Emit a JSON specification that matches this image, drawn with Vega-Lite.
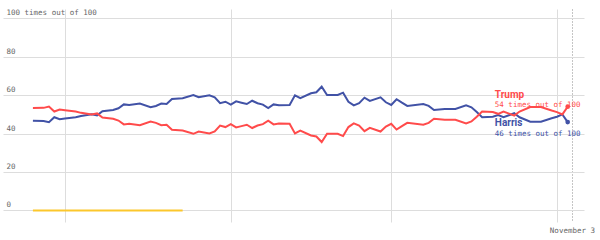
{
  "$schema": "https://vega.github.io/schema/vega-lite/v6.json",
  "width": 581,
  "height": 213,
  "autosize": {"type": "none"},
  "padding": {"left": 3, "top": 9, "right": 16, "bottom": 18},
  "background": "white",
  "config": {"view": {"stroke": null}},
  "datasets": {
    "odds": [
      {"date": "2024-07-26", "Harris": 46.7, "Trump": 53.3},
      {"date": "2024-07-28", "Harris": 46.6, "Trump": 53.4},
      {"date": "2024-07-29", "Harris": 45.9, "Trump": 54.1},
      {"date": "2024-07-30", "Harris": 48.5, "Trump": 51.5},
      {"date": "2024-07-31", "Harris": 47.5, "Trump": 52.5},
      {"date": "2024-08-01", "Harris": 47.8, "Trump": 52.2},
      {"date": "2024-08-03", "Harris": 48.5, "Trump": 51.5},
      {"date": "2024-08-04", "Harris": 49.2, "Trump": 50.8},
      {"date": "2024-08-06", "Harris": 50.0, "Trump": 50.0},
      {"date": "2024-08-07", "Harris": 49.5, "Trump": 50.5},
      {"date": "2024-08-08", "Harris": 51.6, "Trump": 48.4},
      {"date": "2024-08-10", "Harris": 52.3, "Trump": 47.7},
      {"date": "2024-08-11", "Harris": 53.2, "Trump": 46.8},
      {"date": "2024-08-12", "Harris": 55.2, "Trump": 44.8},
      {"date": "2024-08-13", "Harris": 54.9, "Trump": 45.1},
      {"date": "2024-08-15", "Harris": 55.6, "Trump": 44.4},
      {"date": "2024-08-17", "Harris": 53.7, "Trump": 46.3},
      {"date": "2024-08-18", "Harris": 54.4, "Trump": 45.6},
      {"date": "2024-08-19", "Harris": 55.6, "Trump": 44.4},
      {"date": "2024-08-20", "Harris": 55.4, "Trump": 44.6},
      {"date": "2024-08-21", "Harris": 58.0, "Trump": 42.0},
      {"date": "2024-08-23", "Harris": 58.4, "Trump": 41.6},
      {"date": "2024-08-25", "Harris": 60.1, "Trump": 39.9},
      {"date": "2024-08-26", "Harris": 58.9, "Trump": 41.1},
      {"date": "2024-08-28", "Harris": 59.9, "Trump": 40.1},
      {"date": "2024-08-29", "Harris": 58.9, "Trump": 41.1},
      {"date": "2024-08-30", "Harris": 55.8, "Trump": 44.2},
      {"date": "2024-08-31", "Harris": 56.6, "Trump": 43.4},
      {"date": "2024-09-01", "Harris": 55.1, "Trump": 44.9},
      {"date": "2024-09-02", "Harris": 56.8, "Trump": 43.2},
      {"date": "2024-09-03", "Harris": 56.1, "Trump": 43.9},
      {"date": "2024-09-04", "Harris": 55.4, "Trump": 44.6},
      {"date": "2024-09-05", "Harris": 57.1, "Trump": 42.9},
      {"date": "2024-09-06", "Harris": 55.8, "Trump": 44.2},
      {"date": "2024-09-07", "Harris": 55.1, "Trump": 44.9},
      {"date": "2024-09-08", "Harris": 53.3, "Trump": 46.7},
      {"date": "2024-09-09", "Harris": 55.2, "Trump": 44.8},
      {"date": "2024-09-10", "Harris": 54.7, "Trump": 45.3},
      {"date": "2024-09-12", "Harris": 54.9, "Trump": 45.1},
      {"date": "2024-09-13", "Harris": 59.9, "Trump": 40.1},
      {"date": "2024-09-14", "Harris": 58.4, "Trump": 41.6},
      {"date": "2024-09-16", "Harris": 61.0, "Trump": 39.0},
      {"date": "2024-09-17", "Harris": 61.5, "Trump": 38.5},
      {"date": "2024-09-18", "Harris": 64.4, "Trump": 35.6},
      {"date": "2024-09-19", "Harris": 60.1, "Trump": 39.9},
      {"date": "2024-09-21", "Harris": 60.1, "Trump": 39.9},
      {"date": "2024-09-22", "Harris": 61.3, "Trump": 38.7},
      {"date": "2024-09-23", "Harris": 56.6, "Trump": 43.4},
      {"date": "2024-09-24", "Harris": 54.7, "Trump": 45.3},
      {"date": "2024-09-25", "Harris": 55.8, "Trump": 44.2},
      {"date": "2024-09-26", "Harris": 58.7, "Trump": 41.3},
      {"date": "2024-09-27", "Harris": 57.0, "Trump": 43.0},
      {"date": "2024-09-29", "Harris": 58.9, "Trump": 41.1},
      {"date": "2024-09-30", "Harris": 56.3, "Trump": 43.7},
      {"date": "2024-10-01", "Harris": 54.9, "Trump": 45.1},
      {"date": "2024-10-02", "Harris": 57.9, "Trump": 42.1},
      {"date": "2024-10-03", "Harris": 56.1, "Trump": 43.9},
      {"date": "2024-10-04", "Harris": 54.4, "Trump": 45.6},
      {"date": "2024-10-07", "Harris": 55.4, "Trump": 44.6},
      {"date": "2024-10-08", "Harris": 54.4, "Trump": 45.6},
      {"date": "2024-10-09", "Harris": 52.3, "Trump": 47.7},
      {"date": "2024-10-11", "Harris": 52.8, "Trump": 47.2},
      {"date": "2024-10-13", "Harris": 52.8, "Trump": 47.2},
      {"date": "2024-10-15", "Harris": 54.7, "Trump": 45.3},
      {"date": "2024-10-16", "Harris": 53.7, "Trump": 46.3},
      {"date": "2024-10-17", "Harris": 51.2, "Trump": 48.8},
      {"date": "2024-10-18", "Harris": 48.5, "Trump": 51.5},
      {"date": "2024-10-20", "Harris": 48.8, "Trump": 51.2},
      {"date": "2024-10-21", "Harris": 49.7, "Trump": 50.3},
      {"date": "2024-10-22", "Harris": 48.5, "Trump": 51.5},
      {"date": "2024-10-24", "Harris": 50.6, "Trump": 49.4},
      {"date": "2024-10-25", "Harris": 48.5, "Trump": 51.5},
      {"date": "2024-10-27", "Harris": 46.2, "Trump": 53.8},
      {"date": "2024-10-29", "Harris": 46.2, "Trump": 53.8},
      {"date": "2024-10-31", "Harris": 48.0, "Trump": 52.0},
      {"date": "2024-11-01", "Harris": 48.8, "Trump": 51.2},
      {"date": "2024-11-02", "Harris": 50.0, "Trump": 50.0},
      {"date": "2024-11-03", "Harris": 46.0, "Trump": 54.0}
    ],
    "kennedy": [
      {"date": "2024-07-26", "value": 0},
      {"date": "2024-08-23", "value": 0}
    ],
    "names": [
      {"date": "2024-10-20", "value": 58.6, "text": "Trump", "series": "Trump"},
      {"date": "2024-10-20", "value": 43.8, "text": "Harris", "series": "Harris"}
    ],
    "subs": [
      {"date": "2024-10-20", "value": 53.9, "text": "54 times out of 100", "series": "Trump"},
      {"date": "2024-10-20", "value": 38.9, "text": "46 times out of 100", "series": "Harris"}
    ]
  },
  "encoding": {
    "x": {
      "field": "date",
      "type": "temporal",
      "title": null,
      "scale": {
        "type": "utc",
        "domain": [
          {"year": 2024, "month": 7, "date": 20, "hours": 9, "minutes": 45, "utc": true},
          {"year": 2024, "month": 11, "date": 6, "hours": 1, "minutes": 10, "utc": true}
        ]
      },
      "axis": {
        "values": [
          {"year": 2024, "month": 8, "date": 1, "utc": true},
          {"year": 2024, "month": 9, "date": 1, "utc": true},
          {"year": 2024, "month": 10, "date": 1, "utc": true},
          {"year": 2024, "month": 11, "date": 1, "utc": true},
          {"year": 2024, "month": 11, "date": 3, "hours": 19, "utc": true}
        ],
        "grid": true,
        "gridColor": {"condition": {"test": "utcdate(datum.value) == 3", "value": "#8a8a8a"}, "value": "#dddddd"},
        "gridDash": {"condition": {"test": "utcdate(datum.value) == 3", "value": [1, 2]}, "value": []},
        "gridWidth": 1,
        "domain": false,
        "ticks": false,
        "labelExpr": "utcdate(datum.value) == 3 ? 'November 3' : ''",
        "labelFont": "DejaVu Sans Mono",
        "labelFontSize": 7.5,
        "labelColor": "#666666",
        "labelPadding": 4,
        "labelOverlap": false,
        "labelFlush": false,
        "labelBound": false
      }
    },
    "y": {
      "field": "value",
      "type": "quantitative",
      "title": null,
      "scale": {"domain": [-6, 104.84], "nice": false, "zero": false},
      "axis": {
        "values": [0, 20, 40, 60, 80, 100],
        "grid": true,
        "gridColor": "#dddddd",
        "gridWidth": 1,
        "domain": false,
        "ticks": false,
        "labelAlign": "left",
        "labelBaseline": "alphabetic",
        "labelOffset": -3.5,
        "labelPadding": -3,
        "labelExpr": "datum.value == 100 ? '100 times out of 100' : datum.value == 0 ? '\u00a0\u00a00' : '\u00a0' + datum.label",
        "labelFont": "DejaVu Sans Mono",
        "labelFontSize": 7.5,
        "labelColor": "#666666",
        "labelOverlap": false,
        "labelBound": false
      }
    }
  },
  "layer": [
    {
      "data": {"name": "kennedy"},
      "mark": {"type": "line", "color": "#fcc72c", "strokeWidth": 2},
      "encoding": {}
    },
    {
      "data": {"name": "odds"},
      "transform": [{"fold": ["Harris", "Trump"], "as": ["series", "value"]}],
      "mark": {"type": "line", "strokeWidth": 2, "interpolate": "linear"},
      "encoding": {
        "color": {"field": "series", "type": "nominal", "legend": null,
          "scale": {"domain": ["Trump", "Harris"], "range": ["#ff4b4b", "#4152a6"]}}
      }
    },
    {
      "data": {"name": "odds"},
      "transform": [
        {"fold": ["Harris", "Trump"], "as": ["series", "value"]},
        {"filter": "utcmonth(datum.date) == 10 && utcdate(datum.date) == 3"}
      ],
      "mark": {"type": "circle", "size": 22, "opacity": 1},
      "encoding": {
        "color": {"field": "series", "type": "nominal", "legend": null}
      }
    },
    {
      "data": {"name": "names"},
      "mark": {"type": "text", "align": "left", "baseline": "alphabetic", "dx": 2, "font": "Roboto", "fontSize": 10, "fontWeight": "bold"},
      "encoding": {
        "text": {"field": "text"},
        "color": {"field": "series", "type": "nominal", "legend": null}
      }
    },
    {
      "data": {"name": "subs"},
      "mark": {"type": "text", "align": "left", "baseline": "alphabetic", "dx": 2, "font": "DejaVu Sans Mono", "fontSize": 7.5},
      "encoding": {
        "text": {"field": "text"},
        "color": {"field": "series", "type": "nominal", "legend": null}
      }
    }
  ]
}
